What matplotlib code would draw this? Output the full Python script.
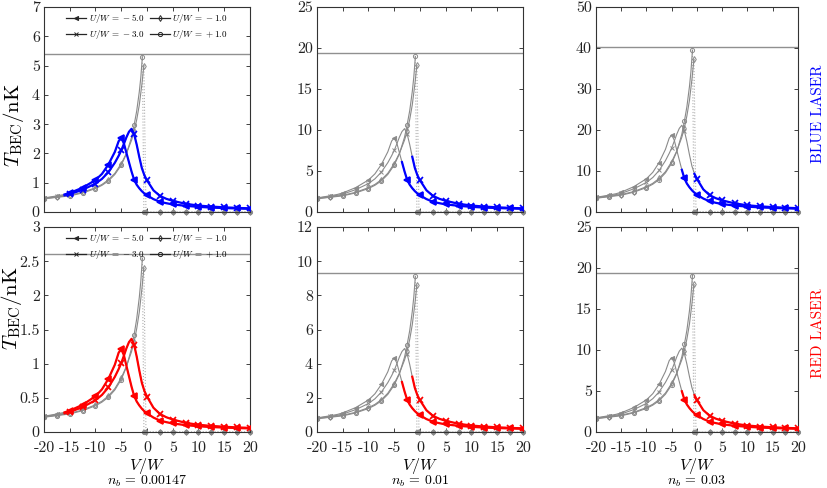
import numpy as np
import matplotlib
matplotlib.use('Agg')
import matplotlib.pyplot as plt
from matplotlib.lines import Line2D

plt.rcParams['mathtext.fontset'] = 'cm'
plt.rcParams['font.family'] = ['cmr10', 'DejaVu Serif']
plt.rcParams['axes.unicode_minus'] = False
plt.rcParams['axes.formatter.use_mathtext'] = True

# ---------------- data (blue laser, n_b = 0.00147 shape) ----------------
V = [-20, -17.5, -16, -15, -12.5, -10, -8.75, -7.5, -6.25, -5.5, -5, -4.5, -4,
     -3.5, -3, -2.5, -2, -1.5, -1, -0.5, 0, 1.25, 2.5, 3.75, 5, 7.5, 10, 12.5,
     15, 17.5, 20]
T_Um5 = [0.48, 0.55, 0.60, 0.65, 0.83, 1.09, 1.30, 1.62, 2.05, 2.42, 2.52, 2.35,
         2.02, 1.70, 1.38, 1.10, 0.93, 0.81, 0.71, 0.63, 0.57, 0.44, 0.35, 0.30,
         0.26, 0.21, 0.175, 0.15, 0.135, 0.12, 0.11]
T_Um3 = [0.47, 0.53, 0.57, 0.61, 0.76, 0.97, 1.13, 1.36, 1.68, 1.92, 2.10, 2.32,
         2.55, 2.74, 2.84, 2.66, 2.30, 1.88, 1.50, 1.25, 1.08, 0.74, 0.55, 0.45,
         0.38, 0.28, 0.22, 0.185, 0.16, 0.14, 0.125]
V_Um1 = [-20, -17.5, -15, -12.5, -10, -8.75, -7.5, -6.25, -5, -4, -3, -2.5, -2,
         -1.5, -1, -0.6]
T_Um1 = [0.46, 0.51, 0.57, 0.67, 0.83, 0.94, 1.10, 1.32, 1.65, 2.00, 2.45, 2.75,
         3.15, 3.65, 4.35, 5.0]
V_Up1 = [-20, -17.5, -15, -12.5, -10, -8.75, -7.5, -6.25, -5, -4, -3, -2.5, -2,
         -1.5, -1.2, -0.9]
T_Up1 = [0.45, 0.50, 0.55, 0.65, 0.80, 0.91, 1.06, 1.28, 1.60, 1.98, 2.55, 2.97,
         3.45, 4.10, 4.60, 5.30]
V_zero_Um1 = [-0.2, 2.5, 5, 7.5, 10, 12.5, 15, 17.5, 20]
V_zero_Up1 = [-0.6, 2.5, 5, 7.5, 10, 12.5, 15, 17.5, 20]
V_marks = [-20, -17.5, -15, -12.5, -10, -7.5, -5, -2.5, 0, 2.5, 5, 7.5, 10,
           12.5, 15, 17.5, 20]

nb_labels = ['0.00147', '0.01', '0.03']
scale_blue = [1.0, 3.58, 7.45]
scale_red = [0.48, 1.72, 3.60]
hline_blue = [5.4, 19.4, 40.3]
hline_red = [2.6, 9.3, 19.4]
ymax_blue = [7, 25, 50]
ystep_blue = [1, 5, 10]
ymax_red = [3, 12, 25]
ystep_red = [0.5, 2, 5]
start_blue = [(-16, -16), (-3.5, -1.5), (-3.0, -0.5)]
start_red = [(-16, -16), (-3.5, -1.5), (-3.0, -0.5)]
x_ticks = [-20, -15, -10, -5, 0, 5, 10, 15, 20]
U_labels = [r'$U/W\,=\,-5.0$', r'$U/W\,=\,-3.0$', r'$U/W\,=\,-1.0$', r'$U/W\,=\,+1.0$']

# ---------------- layout ----------------
W, H = 828, 488
fig = plt.figure(figsize=(W / 100, H / 100), dpi=100)
lefts = [44, 317, 596]
widths = [206, 206, 202]
tops = [7, 227]
ax_h = 205
GRAY = '#8a8a8a'

Va = np.array(V, dtype=float)


def mark_idx(vs):
    vs = np.asarray(vs, dtype=float)
    return [i for i, v in enumerate(vs) if np.any(np.isclose(v, V_marks))]


rows = [
    dict(color=(0, 0, 1), scale=scale_blue, hl=hline_blue, ymax=ymax_blue,
         ystep=ystep_blue, start=start_blue, label='BLUE LASER', ylab=(-0.085, 0.424)),
    dict(color=(1, 0, 0), scale=scale_red, hl=hline_red, ymax=ymax_red,
         ystep=ystep_red, start=start_red, label='RED LASER', ylab=(-0.095, 0.605)),
]

for r, cfg in enumerate(rows):
    for c in range(3):
        ax = fig.add_axes([lefts[c] / W, 1 - (tops[r] + ax_h) / H,
                           widths[c] / W, ax_h / H])
        s = cfg['scale'][c]
        # gray full curves
        for T, mk in [(T_Um5, '<'), (T_Um3, 'x')]:
            y = np.array(T) * s
            ax.plot(Va, y, color=GRAY, lw=0.8, marker=mk, markevery=mark_idx(Va),
                    ms=3, mfc=GRAY, mec=GRAY, mew=0.7, zorder=2)
        for Vs, T, Vz, mk in [(V_Um1, T_Um1, V_zero_Um1, 'd'),
                              (V_Up1, T_Up1, V_zero_Up1, 'o')]:
            y = np.array(T) * s
            idx = mark_idx(Vs) + [len(Vs) - 1]
            ax.plot(Vs, y, color=GRAY, lw=0.8, marker=mk, markevery=idx, ms=3,
                    mfc='none', mec=GRAY, mew=0.7, zorder=2)
            zx = [Vs[-1]] + list(Vz)
            zy = [y[-1]] + [0.0] * len(Vz)
            ax.plot(zx, zy, color='#b0b0b0', lw=0.8, ls=':', zorder=1.5)
            ax.plot(Vz, [0.0] * len(Vz), ls='none', marker=mk, ms=3, mfc=GRAY,
                    mec=GRAY, mew=0.7, zorder=2, clip_on=False)
        # coloured segments
        for (T, mk), vstart in zip([(T_Um5, '<'), (T_Um3, 'x')], cfg['start'][c]):
            y = np.array(T) * s
            sel = Va >= vstart - 1e-9
            vv, yy = Va[sel], y[sel]
            ax.plot(vv, yy, color=cfg['color'], lw=1.6, marker=mk,
                    markevery=mark_idx(vv), ms=5, mfc=cfg['color'],
                    mec=cfg['color'], mew=1.2, zorder=3)
        ax.axhline(cfg['hl'][c], color='#909090', lw=1.0, zorder=1)

        ax.set_xlim(-20, 20)
        ax.set_ylim(0, cfg['ymax'][c])
        ax.set_xticks(x_ticks)
        yt = np.arange(0, cfg['ymax'][c] + 1e-9, cfg['ystep'][c])
        ax.set_yticks(yt)
        ax.set_yticklabels([f'{v:g}' for v in yt])
        if r == 1:
            ax.set_xticklabels([f'{v:g}' for v in x_ticks])
            ax.text(0.5, -0.166, r'$V/W$', transform=ax.transAxes, ha='center',
                    va='center', fontsize=11.5)
            ax.text(0.5, -0.239, r'$n_b\,=\,$' + nb_labels[c], transform=ax.transAxes,
                    ha='center', va='center', fontsize=10)
        else:
            ax.set_xticklabels([])
        ax.tick_params(direction='in', top=True, right=True, length=3, width=0.6,
                       labelsize=11.5, pad=3, colors='#222222')
        ax.tick_params(axis='x', pad=6.5)
        for sp in ax.spines.values():
            sp.set_color('#333333')
            sp.set_linewidth(0.8)
        if c == 0:
            ax.set_ylabel(r'$T_{\rm BEC}/{\rm nK}$', fontsize=15)
            ax.yaxis.set_label_coords(*cfg['ylab'])
            handles = [Line2D([], [], color='0.15', lw=0.9, marker=m, ms=3,
                              mfc=f, mec='0.15', mew=0.7)
                       for m, f in [('<', '0.15'), ('x', '0.15'), ('d', 'none'),
                                    ('o', 'none')]]
            ax.legend(handles, U_labels, loc='upper center', ncol=2, fontsize=6.5,
                      frameon=False, handlelength=2.2, handletextpad=0.3,
                      columnspacing=0.6, labelspacing=0.25, borderaxespad=0.2)
    fig.text(818 / W, 1 - (tops[r] + ax_h / 2 + 4) / H, cfg['label'], rotation=90,
             color=cfg['color'], fontsize=11, ha='center', va='center')

fig.savefig('out.png', dpi=100)
